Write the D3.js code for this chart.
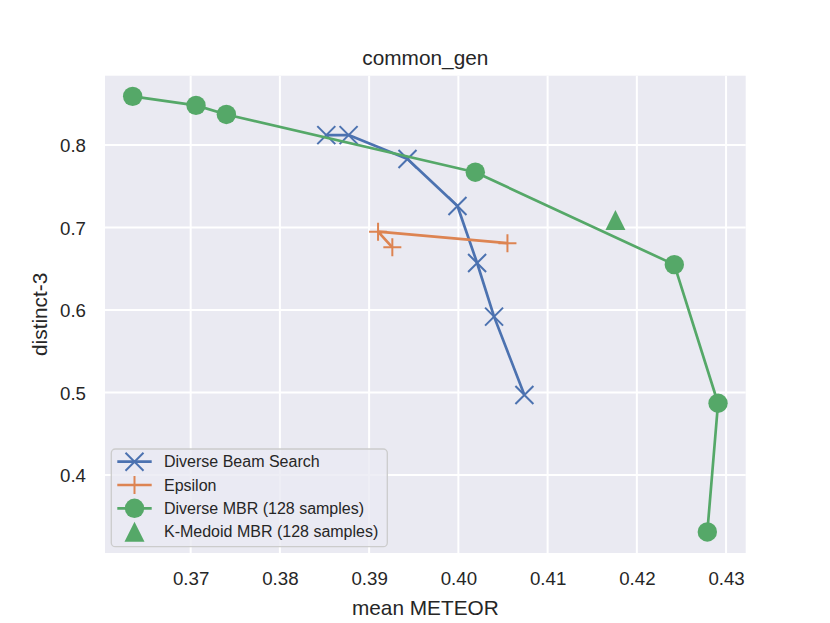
<!DOCTYPE html>
<html>
<head>
<meta charset="utf-8">
<script src="https://cdn.jsdelivr.net/npm/d3@7"></script>
<style>
  body { margin: 0; background: #fff; }
  text { font-family: "Liberation Sans", Arial, sans-serif; fill: #262626; }
</style>
</head>
<body>
<div id="chart"></div>
<script>
// ......................
// Data
var beamMeteor   = [0.3852, 0.3877, 0.3943, 0.3999, 0.4021, 0.4040, 0.4074];
var beamDistinct = [0.812, 0.812, 0.783, 0.726, 0.657, 0.592, 0.497];

var epsMeteor   = [0.3926, 0.3910, 0.4055];
var epsDistinct = [0.676, 0.695, 0.681];

var mbrMeteor   = [0.3635, 0.3706, 0.3740, 0.4019, 0.4242, 0.4291, 0.4279];
var mbrDistinct = [0.859, 0.848, 0.837, 0.767, 0.655, 0.487, 0.331];

var kmMeteor   = [0.4176];
var kmDistinct = [0.709];

var xTicks = [0.37, 0.38, 0.39, 0.40, 0.41, 0.42, 0.43];
var yTicks = [0.4, 0.5, 0.6, 0.7, 0.8];
var xLimits = [0.3604, 0.4322];
var yLimits = [0.3055, 0.884];

var legendNames = ["Diverse Beam Search", "Epsilon", "Diverse MBR (128 samples)", "K-Medoid MBR (128 samples)"];

// ......................
// SVG area
var svgWidth = 830;
var svgHeight = 623;
var Margin = { top: 75.7, right: 84.3, bottom: 70, left: 105 };
var width = svgWidth - Margin.left - Margin.right;
var height = svgHeight - Margin.top - Margin.bottom;

var blue = "#4C72B0", orange = "#DD8452", green = "#55A868";

var svg = d3.select("#chart")
    .append("svg")
    .attr("width", svgWidth)
    .attr("height", svgHeight);

var g = svg.append("g")
    .attr("transform", `translate(${Margin.left}, ${Margin.top})`);

var x = d3.scaleLinear().domain(xLimits).range([0, width]);
var y = d3.scaleLinear().domain(yLimits).range([height, 0]);

// background + grid
g.append("rect")
    .attr("width", width)
    .attr("height", height)
    .attr("fill", "#EAEAF2");

g.selectAll(".xgrid").data(xTicks).enter()
    .append("line")
    .attr("x1", d => x(d)).attr("x2", d => x(d))
    .attr("y1", 0).attr("y2", height)
    .attr("stroke", "#fff").attr("stroke-width", 2);

g.selectAll(".ygrid").data(yTicks).enter()
    .append("line")
    .attr("y1", d => y(d)).attr("y2", d => y(d))
    .attr("x1", 0).attr("x2", width)
    .attr("stroke", "#fff").attr("stroke-width", 2);

// axes (no lines, only labels)
var xAxis = g.append("g")
    .attr("transform", `translate(0, ${height})`)
    .call(d3.axisBottom(x).tickValues(xTicks).tickFormat(d3.format(".2f")).tickSize(0).tickPadding(19));
var yAxis = g.append("g")
    .call(d3.axisLeft(y).tickValues(yTicks).tickFormat(d3.format(".1f")).tickSize(0).tickPadding(19));
[xAxis, yAxis].forEach(a => {
    a.select(".domain").remove();
    a.selectAll("text")
        .attr("font-size", 18.7)
        .attr("font-family", "Liberation Sans, Arial, sans-serif")
        .attr("fill", "#262626");
});
yAxis.selectAll("text").attr("dy", "0.35em");

// titles
svg.append("text")
    .attr("x", Margin.left + width / 2)
    .attr("y", 65)
    .attr("text-anchor", "middle")
    .attr("font-size", 20.8)
    .text("common_gen");

svg.append("text")
    .attr("x", Margin.left + width / 2)
    .attr("y", 615)
    .attr("text-anchor", "middle")
    .attr("font-size", 20.8)
    .text("mean METEOR");

svg.append("text")
    .attr("transform", `translate(46.5, ${Margin.top + height / 2}) rotate(-90)`)
    .attr("text-anchor", "middle")
    .attr("font-size", 20.8)
    .text("distinct-3");

// ......................
// marker helpers
function crossX(sel, cx, cy, s, color) {
    sel.append("path")
        .attr("d", `M${cx - s},${cy - s}L${cx + s},${cy + s}M${cx - s},${cy + s}L${cx + s},${cy - s}`)
        .attr("stroke", color).attr("stroke-width", 2).attr("fill", "none");
}
function plus(sel, cx, cy, s, color) {
    sel.append("path")
        .attr("d", `M${cx - s},${cy}L${cx + s},${cy}M${cx},${cy - s}L${cx},${cy + s}`)
        .attr("stroke", color).attr("stroke-width", 2).attr("fill", "none");
}
function tri(sel, cx, cy, s, color) {
    sel.append("path")
        .attr("d", `M${cx},${cy - s}L${cx - s},${cy + s}L${cx + s},${cy + s}Z`)
        .attr("fill", color);
}

var line = d3.line().x(d => x(d[0])).y(d => y(d[1]));
var zip = (a, b) => a.map((v, i) => [v, b[i]]);

var beam = zip(beamMeteor, beamDistinct);
var eps = zip(epsMeteor, epsDistinct);
var mbr = zip(mbrMeteor, mbrDistinct);
var km = zip(kmMeteor, kmDistinct);

// Diverse Beam Search
g.append("path").attr("d", line(beam))
    .attr("fill", "none").attr("stroke", blue).attr("stroke-width", 2.7).attr("stroke-linejoin", "round");
beam.forEach(d => crossX(g, x(d[0]), y(d[1]), 9, blue));

// Epsilon
g.append("path").attr("d", line(eps))
    .attr("fill", "none").attr("stroke", orange).attr("stroke-width", 2.7).attr("stroke-linejoin", "round");
eps.forEach(d => plus(g, x(d[0]), y(d[1]), 9, orange));

// Diverse MBR
g.append("path").attr("d", line(mbr))
    .attr("fill", "none").attr("stroke", green).attr("stroke-width", 2.7).attr("stroke-linejoin", "round");
g.selectAll(".mbr").data(mbr).enter()
    .append("circle")
    .attr("cx", d => x(d[0])).attr("cy", d => y(d[1]))
    .attr("r", 9.7).attr("fill", green);

// K-Medoid MBR
km.forEach(d => tri(g, x(d[0]), y(d[1]), 10, green));

// ......................
// legend
var leg = svg.append("g").attr("transform", "translate(111.3, 449)");
leg.append("rect")
    .attr("width", 276).attr("height", 97.7)
    .attr("rx", 4).attr("ry", 4)
    .attr("fill", "#EAEAF2").attr("fill-opacity", 0.8)
    .attr("stroke", "#cccccc").attr("stroke-width", 1.3);

var rowY = [12.7, 36, 59.3, 82.7];
var hx0 = 6, hx1 = 40.4, hc = 23.2;
legendNames.forEach((name, i) => {
    var ry = rowY[i];
    if (i < 3) {
        var col = i === 0 ? blue : (i === 1 ? orange : green);
        leg.append("line")
            .attr("x1", hx0).attr("x2", hx1).attr("y1", ry).attr("y2", ry)
            .attr("stroke", col).attr("stroke-width", 2.7);
    }
    if (i === 0) crossX(leg, hc, ry, 9, blue);
    if (i === 1) plus(leg, hc, ry, 9, orange);
    if (i === 2) leg.append("circle").attr("cx", hc).attr("cy", ry).attr("r", 9.7).attr("fill", green);
    if (i === 3) tri(leg, hc, ry, 10, green);
    leg.append("text")
        .attr("x", 52.7).attr("y", ry)
        .attr("dy", "0.36em")
        .attr("font-size", 16)
        .text(name);
});
</script>
</body>
</html>
